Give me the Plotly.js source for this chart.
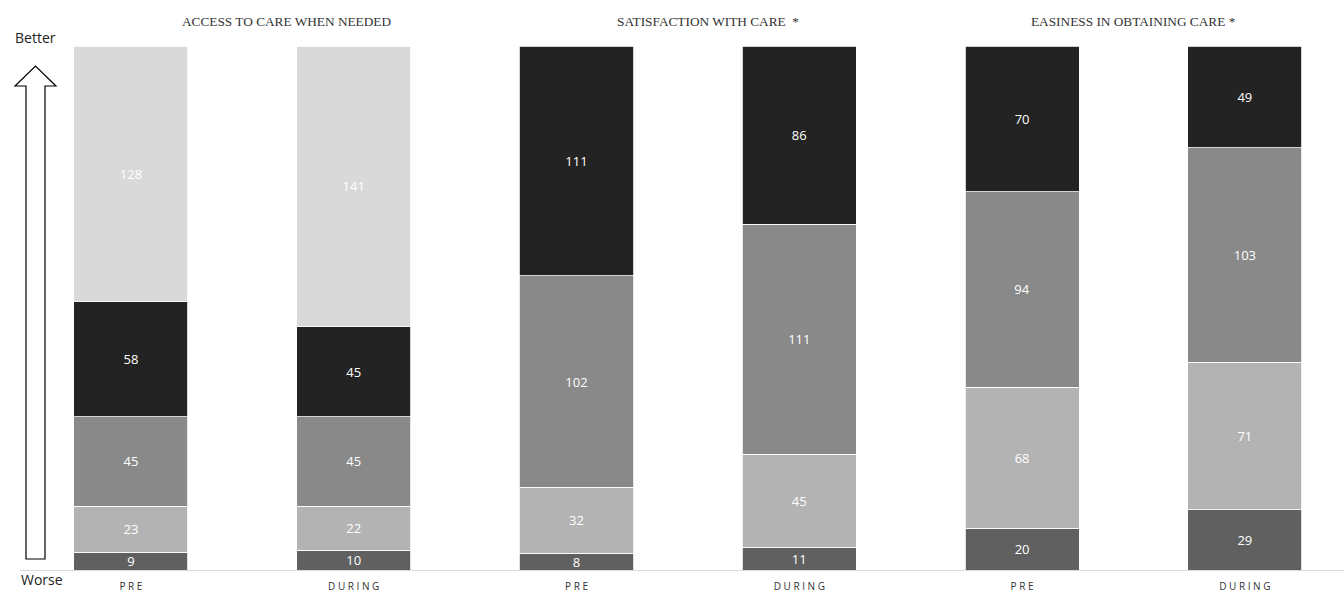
<!DOCTYPE html>
<html>
<head>
<meta charset="utf-8">
<script src="https://cdn.plot.ly/plotly-3.0.1.min.js"></script>
<style>
  html, body { margin: 0; padding: 0; background: #ffffff; }
  #chart { width: 1344px; height: 593px; }
</style>
</head>
<body>
<div id="chart"></div>
<script>
// ---- data ----
var categories = ["access_pre", "access_during", "satisfaction_pre", "satisfaction_during", "easiness_pre", "easiness_during"];
var tickLabels = ["P R E", "D U R I N G", "P R E", "D U R I N G", "P R E", "D U R I N G"];
var groupTitles = ["ACCESS TO CARE WHEN NEEDED", "SATISFACTION WITH CARE  *", "EASINESS IN OBTAINING CARE *"];
var level1 = [9, 10, 8, 11, 20, 29];
var level2 = [23, 22, 32, 45, 68, 71];
var level3 = [45, 45, 102, 111, 94, 103];
var level4 = [58, 45, 111, 86, 70, 49];
var level5 = [128, 141, null, null, null, null];

// ---- style ----
var levels = [level1, level2, level3, level4, level5];
var colors = ["#606060", "#b3b3b3", "#898989", "#232323", "#d9d9d9"];

var traces = levels.map(function (vals, k) {
  return {
    type: "bar",
    x: categories,
    y: vals,
    text: vals.map(function (v) { return v === null ? "" : String(v); }),
    texttemplate: "%{text}",
    textposition: "inside",
    insidetextanchor: "middle",
    constraintext: "none",
    textangle: 0,
    textfont: { family: "Open Sans, sans-serif", size: 13, color: "#ffffff" },
    marker: { color: colors[k], line: { color: "#ffffff", width: 0.8 } },
    hoverinfo: "skip",
    showlegend: false
  };
});

// pixel helpers for decorations (plot area: left 20px, width 1324px, top 46px, height 524px)
var L = 20, W = 1324, T = 46, H = 524;
function px(X) { return (X - L) / W; }
function py(Y) { return (T + H - Y) / H; }

var arrowPath =
  "M " + px(26) + " " + py(559) +
  " L " + px(26) + " " + py(86) +
  " L " + px(15) + " " + py(86) +
  " L " + px(35.5) + " " + py(66) +
  " L " + px(56) + " " + py(86) +
  " L " + px(45) + " " + py(86) +
  " L " + px(45) + " " + py(559) + " Z";

var titleX = [0.698, 2.590, 4.500];

var annotations = groupTitles.map(function (t, i) {
  return {
    text: t, xref: "x", yref: "paper", x: titleX[i], y: py(21),
    xanchor: "center", yanchor: "middle", showarrow: false,
    font: { family: "Liberation Serif, Times New Roman, serif", size: 13.3, color: "#333333" }
  };
});
annotations.push({
  text: "Better", xref: "paper", yref: "paper", x: px(35.5), y: py(37),
  xanchor: "center", yanchor: "middle", showarrow: false,
  font: { family: "Open Sans, sans-serif", size: 14, color: "#222222" }
});
annotations.push({
  text: "Worse", xref: "paper", yref: "paper", x: px(41.5), y: py(579),
  xanchor: "center", yanchor: "middle", showarrow: false,
  font: { family: "Open Sans, sans-serif", size: 14, color: "#222222" }
});

var layout = {
  width: 1344, height: 593,
  margin: { l: L, r: 0, t: T, b: 593 - T - H, pad: 0 },
  paper_bgcolor: "#ffffff", plot_bgcolor: "#ffffff",
  barmode: "stack", barnorm: "percent", bargap: 0.488,
  xaxis: {
    type: "category",
    range: [-0.498, 5.445],
    tickvals: categories, ticktext: tickLabels,
    showline: true, linecolor: "#d9d9d9", linewidth: 1,
    showgrid: false, zeroline: false,
    ticks: "outside", ticklen: 7, tickcolor: "rgba(0,0,0,0)",
    tickfont: { family: "Open Sans, sans-serif", size: 10, color: "#333333" },
    fixedrange: true
  },
  yaxis: {
    range: [0, 100], visible: false, showgrid: false, zeroline: false, fixedrange: true
  },
  shapes: [{
    type: "path", xref: "paper", yref: "paper", path: arrowPath,
    fillcolor: "#ffffff", line: { color: "#000000", width: 1.2 }, layer: "above"
  }],
  annotations: annotations,
  hovermode: false
};

Plotly.newPlot("chart", traces, layout, { displayModeBar: false, staticPlot: true });
</script>
</body>
</html>
